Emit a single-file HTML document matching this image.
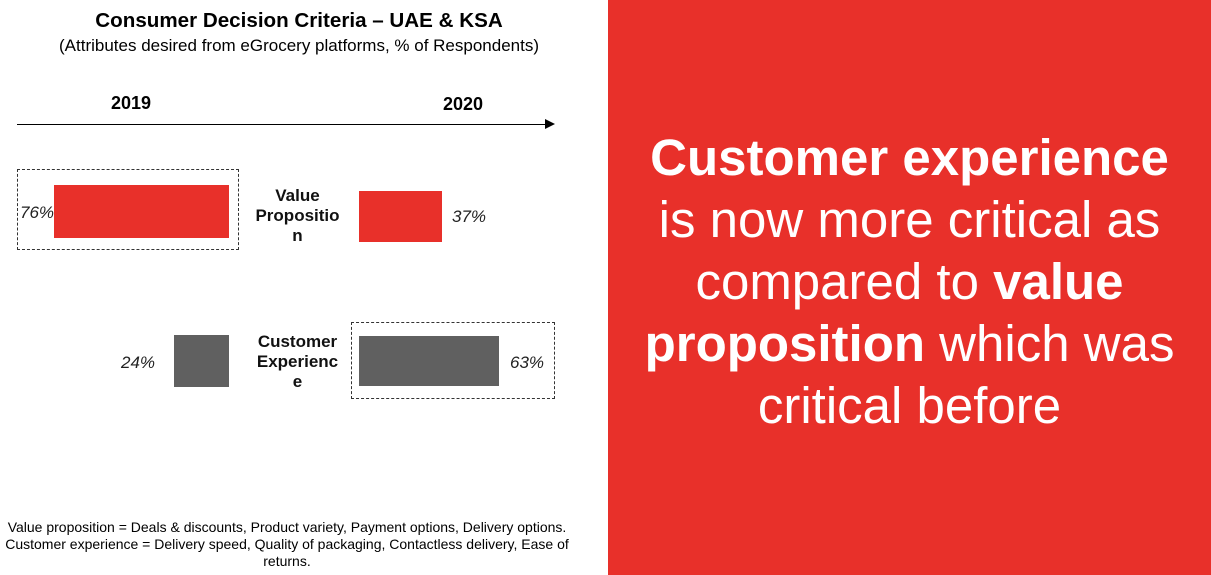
<!DOCTYPE html>
<html><head><style>
body{margin:0;width:1211px;height:575px;position:relative;background:#fff;font-family:"Liberation Sans",Arial,sans-serif;overflow:hidden}
.a{position:absolute}
.t{position:absolute;white-space:nowrap}
.box{position:absolute;border:1px dashed #333}
.lab{position:absolute;font-weight:bold;font-size:17px;text-align:center;line-height:20px;color:#111}
.pct{position:absolute;font-style:italic;font-size:17px;color:#222}
</style></head><body>
<div class="t" style="left:0;width:598px;top:9px;text-align:center;font-weight:bold;font-size:20.6px">Consumer Decision Criteria – UAE &amp; KSA</div>
<div class="t" style="left:0;width:598px;top:36px;text-align:center;font-size:17px">(Attributes desired from eGrocery platforms, % of Respondents)</div>
<div class="t" style="left:111px;top:93px;font-weight:bold;font-size:18px">2019</div>
<div class="t" style="left:443px;top:94px;font-weight:bold;font-size:18px">2020</div>
<div class="a" style="left:17px;top:124px;width:530px;height:1px;background:#000"></div>
<div class="a" style="left:545px;top:119px;width:0;height:0;border-left:10px solid #000;border-top:5px solid transparent;border-bottom:5px solid transparent"></div>
<div class="box" style="left:17px;top:169px;width:220px;height:79px"></div>
<div class="a" style="left:54px;top:185px;width:175px;height:53px;background:#e8302a"></div>
<div class="pct" style="left:20px;top:203px">76%</div>
<div class="lab" style="left:250px;top:186px;width:95px">Value<br>Propositio<br>n</div>
<div class="a" style="left:359px;top:191px;width:83px;height:51px;background:#e8302a"></div>
<div class="pct" style="left:452px;top:207px">37%</div>
<div class="a" style="left:174px;top:335px;width:55px;height:52px;background:#606060"></div>
<div class="pct" style="left:121px;top:353px">24%</div>
<div class="lab" style="left:245px;top:332px;width:105px">Customer<br>Experienc<br>e</div>
<div class="box" style="left:351px;top:322px;width:202px;height:75px"></div>
<div class="a" style="left:359px;top:336px;width:140px;height:50px;background:#606060"></div>
<div class="pct" style="left:510px;top:353px">63%</div>
<div class="t" style="left:0;width:574px;top:519px;text-align:center;font-size:14px;line-height:17px">Value proposition = Deals &amp; discounts, Product variety, Payment options, Delivery options.<br>Customer experience = Delivery speed, Quality of packaging, Contactless delivery, Ease of<br>returns.</div>
<div class="a" style="left:608px;top:0;width:603px;height:575px;background:#e8302a"></div>
<div class="t" style="left:608px;width:603px;top:127px;text-align:center;color:#fff;font-size:51px;line-height:62px">
<b>Customer experience</b><br>is now more critical as<br>compared to <b>value</b><br><b>proposition</b> which was<br>critical before</div>
</body></html>
